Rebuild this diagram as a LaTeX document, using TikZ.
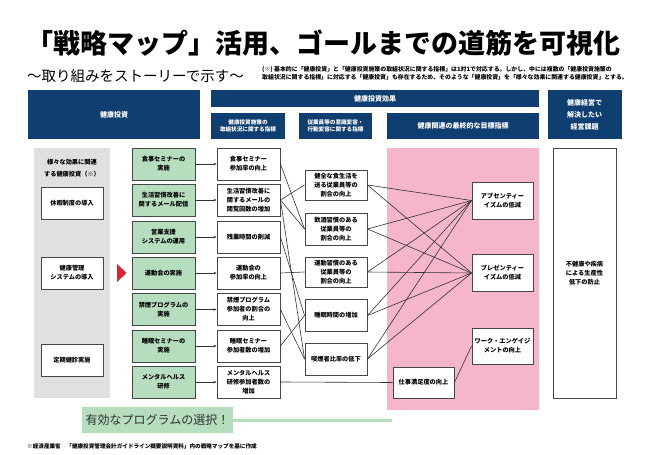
\documentclass[tikz,border=0pt]{standalone}
\usepackage{fontspec}
\setmainfont{Noto Sans CJK JP}
\usetikzlibrary{arrows.meta}

\definecolor{navy}{RGB}{14,63,112}
\definecolor{leafgreen}{RGB}{181,221,190}
\definecolor{panelgray}{RGB}{224,224,224}
\definecolor{pinkpanel}{RGB}{244,182,200}
\definecolor{alertred}{RGB}{226,30,50}
\definecolor{boxline}{RGB}{70,70,70}
\definecolor{darktext}{RGB}{50,50,50}

\tikzset{
  header/.style={fill=navy, text=white, align=center, inner sep=0pt,
    font=\bfseries\fontsize{5.6}{7.5}\selectfont},
  prog/.style={draw=boxline, line width=0.9pt, fill=leafgreen, align=center, inner sep=0pt,
    minimum width=63pt, minimum height=32pt, font=\bfseries\fontsize{6.2}{9}\selectfont},
  measure/.style={prog, fill=white},
  goalbox/.style={measure, minimum width=61pt, minimum height=37pt},
  link/.style={draw=darktext, line width=0.6pt},
  feed/.style={link, -{Stealth[length=3pt,width=2.4pt]}}
}

\begin{document}
\begin{tikzpicture}[x=1pt,y=-1pt]
    \useasboundingbox (0,0) rectangle (649,455);

    %% title and the note on the right
    \node[anchor=west, inner sep=0pt, font=\bfseries\fontsize{27}{30}\selectfont] (title) at (26,43) {「戦略マップ」活用、ゴールまでの道筋を可視化};
    \node[anchor=west, inner sep=0pt, font=\fontsize{14.5}{16}\selectfont] (subtitle) at (27,76) {〜取り組みをストーリーで示す〜};
    \node[anchor=west, inner sep=0pt, align=left, font=\bfseries\fontsize{5.9}{8}\selectfont] (note) at (262,73) {(※) 基本的に「健康投資」と「健康投資施策の取組状況に関する指標」は1対1で対応する。しかし、中には複数の「健康投資施策の\\取組状況に関する指標」に対応する「健康投資」も存在するため、そのような「健康投資」を「様々な効果に関連する健康投資」とする。};

    %% header bars
    \node[header, minimum width=172pt, minimum height=49pt, font=\bfseries\fontsize{7}{9}\selectfont] (hinvest) at (114,114.5) {健康投資};
    \node[header, minimum width=328pt, minimum height=17pt, font=\bfseries\fontsize{7}{9}\selectfont] (heffect) at (375,98.5) {健康投資効果};
    \node[header, minimum width=74pt, minimum height=26pt] (hmeasure) at (248,126) {健康投資施策の\\取組状況に関する指標};
    \node[header, minimum width=73pt, minimum height=26pt] (hbehave) at (335.5,126) {従業員等の意識変容・\\行動変容に関する指標};
    \node[header, minimum width=152pt, minimum height=26pt, font=\bfseries\fontsize{7}{9}\selectfont] (hgoal) at (463,126) {健康関連の最終的な目標指標};
    \node[header, minimum width=74pt, minimum height=49pt, font=\bfseries\fontsize{7}{12}\selectfont] (hissue) at (584.5,114.5) {健康経営で\\解決したい\\経営課題};

    %% panels
    \fill[panelgray] (34,148) rectangle (110,398);
    \fill[pinkpanel] (387,148) rectangle (539,410);
    \node[align=center, inner sep=0pt, font=\bfseries\fontsize{6.2}{12}\selectfont] (multi) at (72,168) {様々な効果に関連\\する健康投資（※）};
    \node[measure, minimum width=62pt] (inv1) at (72,203) {休暇制度の導入};
    \node[measure, minimum width=62pt] (inv2) at (72,273) {健康管理\\システムの導入};
    \node[measure, minimum width=62pt] (inv3) at (72,360) {定期健診実施};
    \fill[alertred] (117,264) -- (126.5,273) -- (117,282) -- cycle;

    %% programs and their measures
    \node[prog] (g1) at (163.5,164) {食事セミナーの\\実施};
    \node[prog] (g2) at (163.5,200) {生活習慣改善に\\関するメール配信};
    \node[prog] (g3) at (163.5,237) {営業支援\\システムの運用};
    \node[prog] (g4) at (163.5,273) {運動会の実施};
    \node[prog] (g5) at (163.5,309.5) {禁煙プログラムの\\実施};
    \node[prog] (g6) at (163.5,346) {睡眠セミナーの\\実施};
    \node[prog] (g7) at (163.5,382) {メンタルヘルス\\研修};

    \node[measure] (w1) at (248.5,164) {食事セミナー\\参加率の向上};
    \node[measure] (w2) at (248.5,200) {生活習慣改善に\\関するメールの\\閲覧回数の増加};
    \node[measure] (w3) at (248.5,237) {残業時間の削減};
    \node[measure] (w4) at (248.5,273) {運動会の\\参加率の向上};
    \node[measure] (w5) at (248.5,309.5) {禁煙プログラム\\参加者の割合の\\向上};
    \node[measure] (w6) at (248.5,346) {睡眠セミナー\\参加者数の増加};
    \node[measure] (w7) at (248.5,382) {メンタルヘルス\\研修参加者数の\\増加};

    \foreach \i in {1,...,7}
        \draw[feed] (g\i) -- (w\i);

    %% behaviour measures
    \node[measure, minimum width=62pt, minimum height=30pt] (m1) at (336,185) {健全な食生活を\\送る従業員等の\\割合の向上};
    \node[measure, minimum width=62pt, minimum height=32pt] (m2) at (336,229) {飲酒習慣のある\\従業員等の\\割合の向上};
    \node[measure, minimum width=62pt, minimum height=30pt] (m3) at (336,272) {運動習慣のある\\従業員等の\\割合の向上};
    \node[measure, minimum width=62pt, minimum height=32pt] (m4) at (336,315.5) {睡眠時間の増加};
    \node[measure, minimum width=62pt, minimum height=32pt] (m5) at (336,359) {喫煙者比率の低下};

    \draw[link] (w1.east) -- (m2.west);
    \draw[link] (w2.east) -- (m1.west);
    \draw[link] (w2.east) -- (m2.west);
    \draw[link] (w2.east) -- (m5.west);
    \draw[link] (w3.east) -- (m4.west);
    \draw[link] (w4.east) -- (m3.west);
    \draw[link] (w5.east) -- (m5.west);
    \draw[link] (w6.east) -- (m4.west);

    %% final goals
    \node[goalbox] (p1) at (502.5,200.5) {アブセンティー\\イズムの低減};
    \node[goalbox] (p2) at (502.5,273) {プレゼンティー\\イズムの低減};
    \node[goalbox, minimum height=36pt] (p3) at (502.5,346) {ワーク・エンゲイジ\\メントの向上};
    \node[goalbox, minimum height=31pt] (p4) at (423.5,382.5) {仕事満足度の向上};

    \foreach \i in {1,...,5} {
        \draw[link] (m\i.east) -- (p1.west);
        \draw[link] (m\i.east) -- (p2.west);
    }
    \draw[link] (w7.east) -- (p4.west);
    \draw[link] (p4.east) -- (p3.west);

    %% management issue
    \node[measure, minimum width=63pt, minimum height=250pt] (issue) at (584.5,273) {不健康や疾病\\による生産性\\低下の防止};

    %% bottom banner
    \node[fill=leafgreen, minimum width=151pt, minimum height=26pt, inner sep=0pt, text=darktext, font=\fontsize{12}{13}\selectfont] (choose) at (157.5,420) {有効なプログラムの選択！};
    \coordinate (chooseend) at (392,420);
    \draw[leafgreen, line width=3pt] (choose.east) -- (chooseend);

    \node[anchor=west, inner sep=0pt, font=\bfseries\fontsize{5.6}{7}\selectfont] (source) at (27,446) {※経済産業省　「健康投資管理会計ガイドライン概要説明資料」内の戦略マップを基に作成};
\end{tikzpicture}
\end{document}
